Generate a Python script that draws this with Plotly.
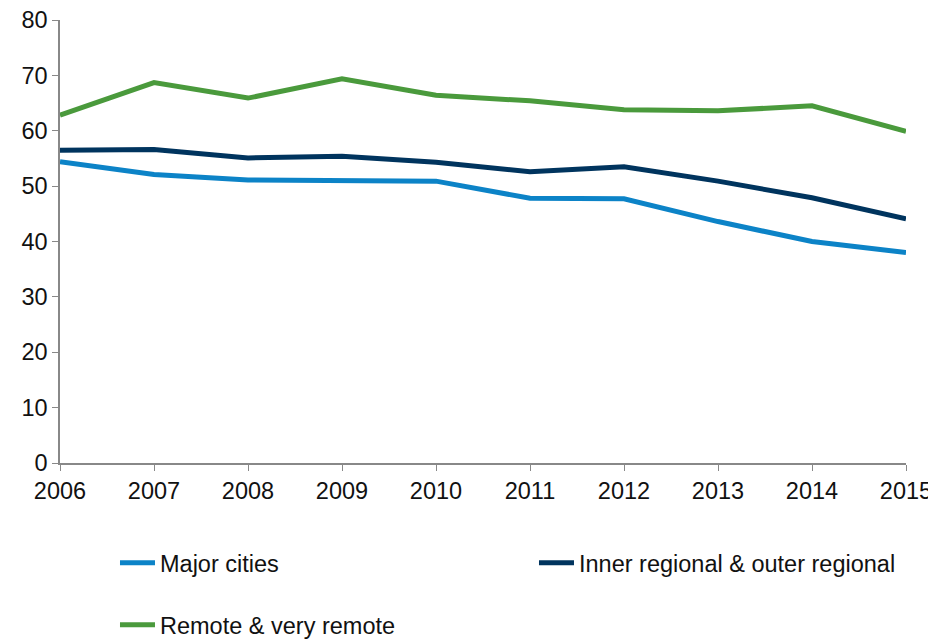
import plotly.graph_objects as go

years = [2006, 2007, 2008, 2009, 2010, 2011, 2012, 2013, 2014, 2015]
major_cities = [54.4, 52.1, 51.1, 51.0, 50.9, 47.8, 47.7, 43.6, 40.0, 38.0]
inner_outer_regional = [56.5, 56.6, 55.1, 55.4, 54.3, 52.6, 53.5, 50.9, 47.9, 44.1]
remote_very_remote = [62.8, 68.7, 65.9, 69.4, 66.4, 65.4, 63.8, 63.6, 64.5, 59.9]

series_names = ['Major cities', 'Inner regional & outer regional', 'Remote & very remote']
series_colors = ['#0C83C7', '#00345E', '#4A9A3C']
y_ticks = [0, 10, 20, 30, 40, 50, 60, 70, 80]

fig = go.Figure()
for name, vals, col, leg in zip(series_names,
                                [major_cities, inner_outer_regional, remote_very_remote],
                                series_colors, ['legend', 'legend', 'legend2']):
    fig.add_trace(go.Scatter(x=years, y=vals, name=name, mode='lines',
                             line=dict(color=col, width=5), legend=leg))

axis_style = dict(showline=True, linecolor='#888888', linewidth=1.5, showgrid=False,
                  zeroline=False, ticks='outside', tickcolor='#888888', ticklen=6,
                  automargin=False, ticklabeloverflow='allow',
                  tickfont=dict(size=23.5, color='#111111'))

legend_style = dict(orientation='h', x=0.065, xanchor='left', yanchor='middle',
                    itemwidth=35, font=dict(size=23.5), bgcolor='rgba(0,0,0,0)')

# page body has an 8px margin, so the figure is a bit smaller than the window
fig.update_layout(
    width=928, height=632,
    margin=dict(l=52, r=30, t=12, b=177, autoexpand=False),
    plot_bgcolor='white', paper_bgcolor='white',
    font=dict(family='Liberation Sans, Arial, sans-serif', size=23.5, color='#111111'),
    xaxis=dict(range=[2006, 2015], tickvals=years, **axis_style),
    yaxis=dict(range=[0, 80], tickvals=y_ticks, **axis_style),
    legend=dict(y=-0.2257, entrywidth=369, **legend_style),
    legend2=dict(y=-0.3657, **legend_style),
)

fig.write_html("out.html")
